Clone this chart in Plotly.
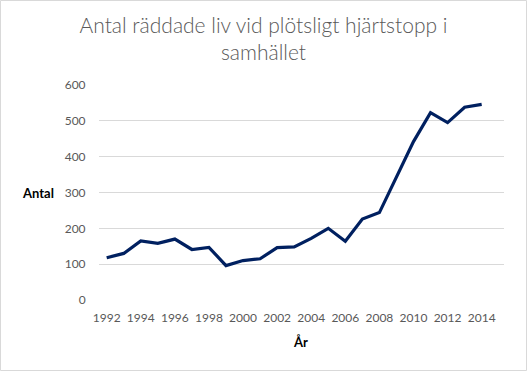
import plotly.graph_objects as go

years = list(range(1992, 2015))
saved_lives = [118, 130, 165, 158, 170, 141, 147, 96, 110, 115, 146, 148, 172, 200, 164,
               226, 244, 344, 442, 523, 495, 538, 546]
x_tick_vals = list(range(1992, 2015, 2))
y_tick_vals = [0, 100, 200, 300, 400, 500, 600]

title_text = "Antal räddade liv vid plötsligt hjärtstopp i<br>samhället"
x_title = "År"
y_title = "Antal"

W, H = 527, 371
L, R, T, B = 99, 23, 85, 71
pw, ph = W - L - R, H - T - B

def px(x):
    return (x - L) / pw

def py(y):
    return (H - B - y) / ph

fig = go.Figure()
fig.add_trace(go.Scatter(
    x=years, y=saved_lives, mode="lines",
    line=dict(color="#002060", width=3.2),
    hoverinfo="x+y", showlegend=False,
))

fig.update_layout(
    width=W, height=H,
    margin=dict(l=L, r=R, t=T, b=B),
    paper_bgcolor="white", plot_bgcolor="white",
    font=dict(family="Lato, Carlito, sans-serif", color="#595959", size=12),
    title=dict(
        text=title_text,
        font=dict(family="Lato, sans-serif", size=21, color="#595959", weight=300),
        x=0.5, xanchor="center", xref="container",
        y=1 - 33 / H, yanchor="top", yref="container",
    ),
    xaxis=dict(
        range=[1991.55, 2015.31],
        tickmode="array", tickvals=x_tick_vals,
        ticktext=[str(v) for v in x_tick_vals],
        showgrid=False, zeroline=False, showline=False,
        ticks="outside", ticklen=7, tickcolor="rgba(0,0,0,0)",
        tickfont=dict(size=12, color="#595959"),
        fixedrange=True,
    ),
    yaxis=dict(
        range=[0, 600],
        tickmode="array", tickvals=y_tick_vals,
        showgrid=True, gridcolor="#d9d9d9", gridwidth=1,
        zeroline=False, showline=False,
        ticks="outside", ticklen=10, tickcolor="rgba(0,0,0,0)",
        tickfont=dict(size=12, color="#595959"),
        fixedrange=True,
    ),
    annotations=[
        dict(text="<b>" + y_title + "</b>", xref="paper", yref="paper",
             x=px(38.4), y=py(193), showarrow=False,
             font=dict(size=13, color="black", family="Lato, sans-serif"),
             xanchor="center", yanchor="middle"),
        dict(text="<b>" + x_title + "</b>", xref="paper", yref="paper",
             x=px(300), y=py(342), showarrow=False,
             font=dict(size=13, color="black", family="Lato, sans-serif"),
             xanchor="center", yanchor="middle"),
    ],
    shapes=[
        dict(type="rect", xref="paper", yref="paper",
             x0=px(0.5), x1=px(W - 0.5), y0=py(0.5), y1=py(H - 0.5),
             line=dict(color="#d9d9d9", width=1), layer="below"),
    ],
)

fig.write_html("out.html", config={"displayModeBar": False},
               post_script="document.body.style.margin='0';")
